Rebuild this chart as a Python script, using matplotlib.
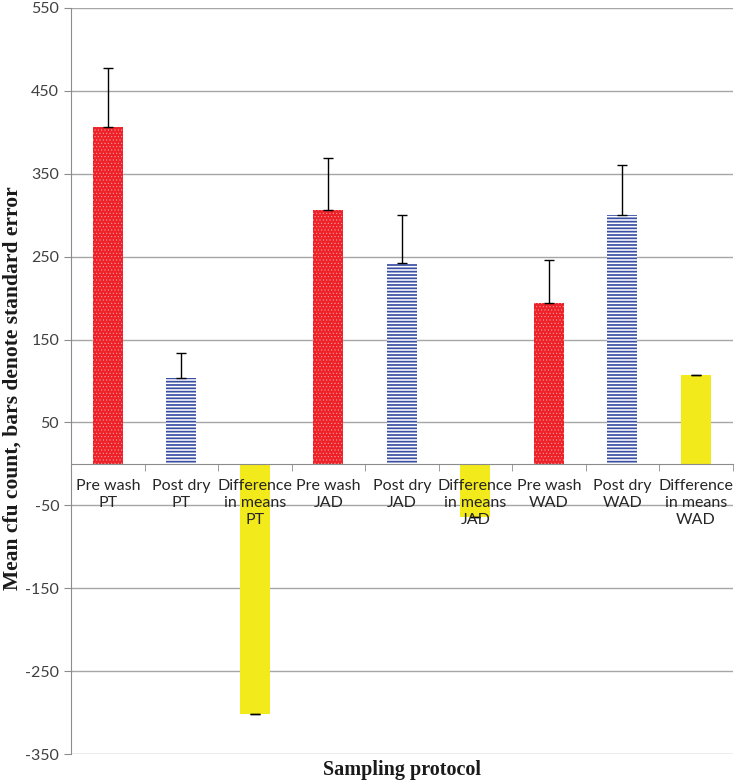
import numpy as np
import matplotlib
matplotlib.use("Agg")
import matplotlib.pyplot as plt

plt.rcParams["axes.unicode_minus"] = False

categories = ["Pre wash\nPT", "Post dry\nPT", "Difference\nin means\nPT",
              "Pre wash\nJAD", "Post dry\nJAD", "Difference\nin means\nJAD",
              "Pre wash\nWAD", "Post dry\nWAD", "Difference\nin means\nWAD"]
means = [406, 104, -302, 306, 242, -64, 194, 300, 107]
std_err = [71, 30, 0, 63, 58, 0, 52, 60, 0]
kinds = ["pre", "post", "diff"] * 3
yticks = list(range(-350, 551, 100))

fig = plt.figure(figsize=(7.35, 7.82), dpi=100)
ax = fig.add_axes([0.0966, 0.0358, 0.9, 0.954])

x = np.arange(len(categories))
w = 0.41
for i, (m, k) in enumerate(zip(means, kinds)):
    if k == "pre":
        with plt.rc_context({"hatch.linewidth": 0.4}):
            b = ax.bar(x[i], m, w, color="#ee2128", edgecolor="#f7a0a0",
                       hatch=".....", linewidth=0, zorder=2)
    elif k == "post":
        with plt.rc_context({"hatch.linewidth": 1.25}):
            b = ax.bar(x[i], m, w, color="white", edgecolor="#3a4ea3",
                       hatch="-----", linewidth=0, zorder=2)
    else:
        b = ax.bar(x[i], m, w, color="#f3ea1b", linewidth=0, zorder=2)
    for p in b:
        if hasattr(p, "set_hatch_linewidth"):
            p.set_hatch_linewidth(0.4 if k == "pre" else 1.25)

ax.errorbar(x, means, yerr=[[0] * len(means), std_err], fmt="none",
            ecolor="black", elinewidth=1, capsize=3.5, capthick=1, zorder=3)

ax.set_xlim(-0.5, len(categories) - 0.5)
ax.set_ylim(-350, 550)
ax.set_yticks(yticks)
ax.yaxis.grid(True, color="#a6a6a6", linewidth=1)
ax.set_axisbelow(True)
ax.xaxis.set_zorder(4)

ax.spines["top"].set_visible(False)
ax.spines["right"].set_visible(False)
ax.spines["bottom"].set_position(("data", 0))
ax.spines["bottom"].set_color("#8c8c8c")
ax.spines["left"].set_color("#8c8c8c")
ax.spines["bottom"].set_zorder(3)

ax.set_xticks(x)
ax.set_xticklabels(categories, fontfamily="Lato", fontsize=11.5, color="#262626",
                   linespacing=1.25)
ax.set_xticks(np.arange(0.5, len(categories), 1), minor=True)
ax.tick_params(axis="x", which="major", length=0, pad=11)
ax.tick_params(axis="x", which="minor", length=5, color="#8c8c8c", direction="out")
ax.tick_params(axis="y", length=5, color="#8c8c8c", labelsize=11.5, labelcolor="#404040")
for t in ax.get_yticklabels():
    t.set_fontfamily("Lato")

fig.text(0.0175, 0.504, "Mean cfu count, bars denote standard error", rotation=90,
         ha="center", va="center", fontfamily="Liberation Serif",
         fontweight="bold", fontsize=15.5, color="#1a1a1a")
fig.text(0.547, 0.015, "Sampling protocol", ha="center", va="center",
         fontfamily="Liberation Serif", fontweight="bold", fontsize=14.5, color="#1a1a1a")

fig.savefig("out.png", dpi=100)
